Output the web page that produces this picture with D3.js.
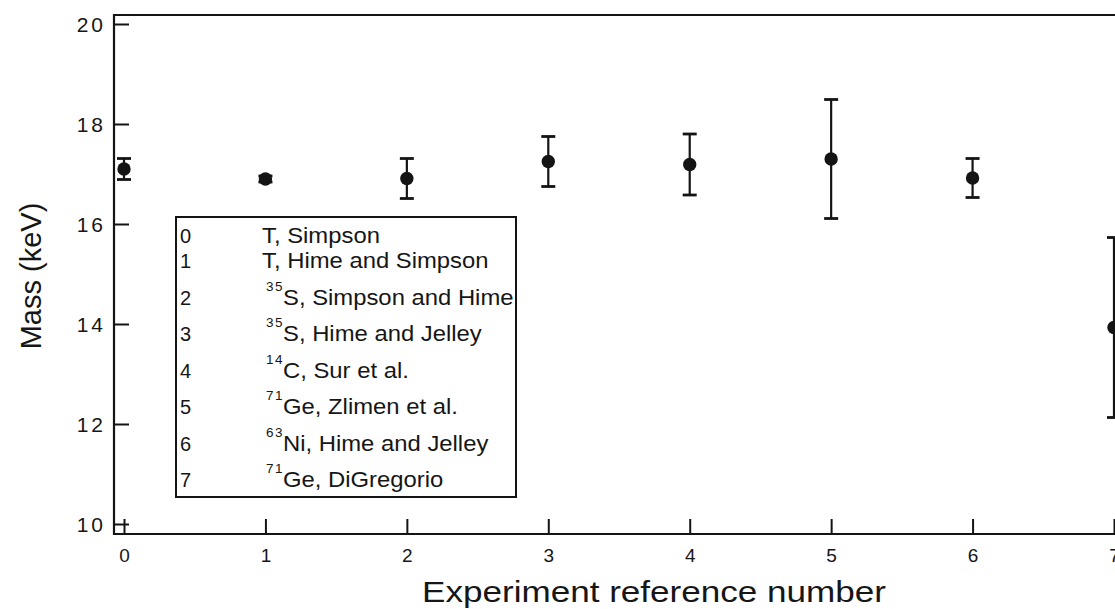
<!DOCTYPE html>
<html>
<head>
<meta charset="utf-8">
<script src="https://cdn.jsdelivr.net/npm/d3@7"></script>
<style>
  html, body { margin: 0; padding: 0; background: #fff; }
  svg { display: block; }
  text { font-family: "Liberation Sans", Arial, Helvetica, sans-serif; fill: #161616; }
</style>
</head>
<body>
<svg id="chart" width="1115" height="609"></svg>
<script>
// Experiment reference numbers and measured masses (keV) with their errors
const experiment = [0, 1, 2, 3, 4, 5, 6, 7];
const mass       = [17.1, 16.9, 16.91, 17.25, 17.19, 17.3, 16.92, 13.93];
const massErr    = [0.21, 0.06, 0.40, 0.50, 0.61, 1.19, 0.39, 1.80];

// Axis ticks
const xTicks = [0, 1, 2, 3, 4, 5, 6, 7];
const yTicks = [10, 12, 14, 16, 18, 20];

// Legend entries: isotope mass number (superscript), source, authors
const legendId   = ["0", "1", "2", "3", "4", "5", "6", "7"];
const legendIso  = ["", "", "35", "35", "14", "71", "63", "71"];
const legendText = ["T, Simpson", "T, Hime and Simpson", "S, Simpson and Hime",
                    "S, Hime and Jelley", "C, Sur et al.", "Ge, Zlimen et al.",
                    "Ni, Hime and Jelley", "Ge, DiGregorio"];

const svg = d3.select("#chart");
const ink = "#141414";

// Scales
const x = d3.scaleLinear().domain([0, 7]).range([124, 1114]);
const y = d3.scaleLinear().domain([10, 20]).range([524, 24]);

// Plot frame (the right edge lies past the page edge)
const frameLeft = 114, frameTop = 15, frameBottom = 534, frameRight = 1130;
svg.append("path")
  .attr("d", `M${frameRight},${frameTop}H${frameLeft}V${frameBottom}H${frameRight}`)
  .attr("fill", "none").attr("stroke", ink).attr("stroke-width", 2.2);

// Y axis: inward ticks, spaced digits
const yAxis = svg.append("g")
  .attr("transform", `translate(${frameLeft},0)`)
  .call(d3.axisLeft(y).tickValues(yTicks).tickSize(-15).tickPadding(11).tickFormat(d3.format("d")));
yAxis.attr("font-size", 21).attr("font-family", null);
yAxis.select(".domain").remove();
yAxis.selectAll(".tick line").attr("stroke", ink).attr("stroke-width", 2);
yAxis.selectAll(".tick text")
  .attr("font-size", 21).style("letter-spacing", "3px")
  .attr("fill", "#1c1c1c").attr("dx", "3px").attr("dy", "0.36em");

// X axis: inward ticks
const xAxis = svg.append("g")
  .attr("transform", `translate(0,${frameBottom})`)
  .call(d3.axisBottom(x).tickValues(xTicks).tickSize(-15).tickPadding(15).tickFormat(d3.format("d")));
xAxis.attr("font-size", 19).attr("font-family", null);
xAxis.select(".domain").remove();
xAxis.selectAll(".tick line").attr("stroke", ink).attr("stroke-width", 2);
xAxis.selectAll(".tick text").attr("font-size", 19).attr("fill", "#1c1c1c");

// Axis titles (set slightly wide)
svg.append("text")
  .attr("transform", "translate(654,602) scale(1.17,1)")
  .attr("text-anchor", "middle")
  .style("font-size", "30px")
  .text("Experiment reference number");

svg.append("text")
  .attr("transform", "translate(41,276) rotate(-90)")
  .attr("text-anchor", "middle")
  .style("font-size", "29px")
  .text("Mass (keV)");

// Error bars with caps and filled markers
const pts = experiment.map((e, i) => ({ e, m: mass[i], s: massErr[i] }));
const capW = 7;
const marks = svg.append("g");
pts.forEach(p => {
  const cx = x(p.e), top = y(p.m + p.s), bot = y(p.m - p.s);
  marks.append("line").attr("x1", cx).attr("x2", cx).attr("y1", top).attr("y2", bot)
    .attr("stroke", ink).attr("stroke-width", 2.2);
  [top, bot].forEach(cy => marks.append("line")
    .attr("x1", cx - capW).attr("x2", cx + capW).attr("y1", cy).attr("y2", cy)
    .attr("stroke", ink).attr("stroke-width", 2.8));
  marks.append("circle").attr("cx", cx).attr("cy", y(p.m)).attr("r", 6.7).attr("fill", ink);
});

// Legend box
const lg = svg.append("g");
lg.append("rect")
  .attr("x", 176).attr("y", 217).attr("width", 340).attr("height", 280)
  .attr("fill", "#fff").attr("stroke", ink).attr("stroke-width", 2);

let baseline = 243;
legendId.forEach((id, i) => {
  if (i > 0) baseline += legendIso[i] ? 36.5 : 25;
  lg.append("text").attr("x", 180).attr("y", baseline)
    .style("font-size", "20px").attr("fill", "#222").text(id);
  let tx = 262;
  if (legendIso[i]) {
    lg.append("text").attr("x", 266).attr("y", baseline - 14)
      .style("font-size", "13.5px").style("letter-spacing", "1.5px").text(legendIso[i]);
    tx = 283;
  }
  lg.append("text")
    .attr("transform", `translate(${tx},${baseline}) scale(1.06,1)`)
    .style("font-size", "22.5px")
    .text(legendText[i]);
});
</script>
</body>
</html>
